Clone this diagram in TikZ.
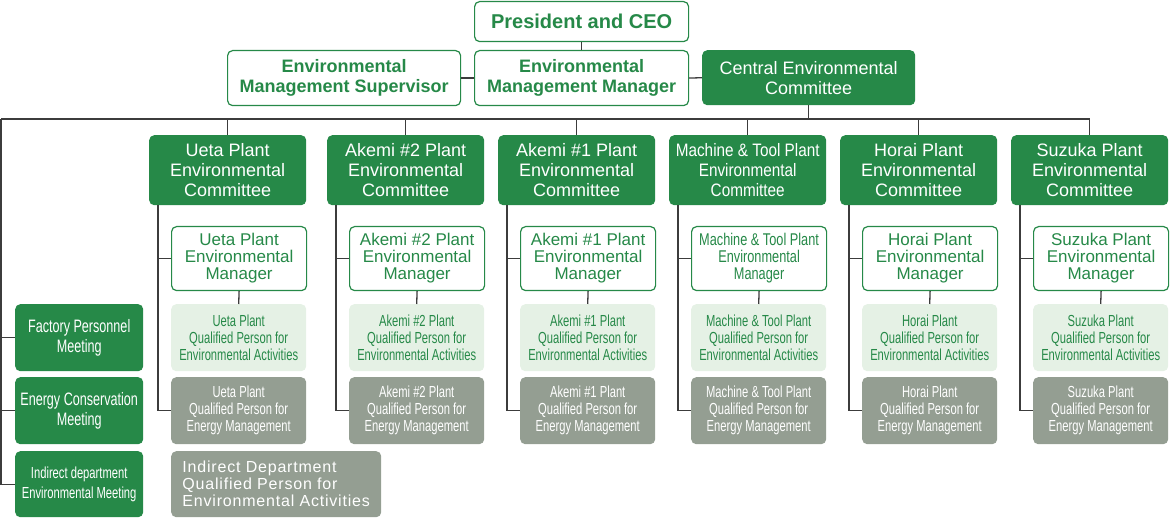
\documentclass[tikz,border=0pt]{standalone}
\usepackage{fontspec}
\setmainfont{Liberation Sans}
\newfontfamily\condsf[FakeStretch=0.7]{Liberation Sans}
\newfontfamily\midsf[FakeStretch=0.75]{Liberation Sans}
\newfontfamily\semisf[FakeStretch=0.85]{Liberation Sans}
\newfontfamily\widesf[LetterSpace=5]{Liberation Sans}
\definecolor{envgreen}{RGB}{38,137,72}
\definecolor{envlight}{RGB}{229,241,229}
\definecolor{envgray}{RGB}{148,158,146}
\definecolor{linegray}{RGB}{60,60,60}
\usetikzlibrary{positioning,calc}
% font sizes in px of the chart
\newcommand\comfont{\fontsize{18}{20}\selectfont}
\newcommand\comnarrow{\semisf\fontsize{18}{20}\selectfont}
\newcommand\mgrfont{\fontsize{17}{17}\selectfont}
\newcommand\mgrnarrow{\midsf\fontsize{17}{17}\selectfont}
\newcommand\qualfont{\condsf\fontsize{16}{17}\selectfont}
\newcommand\meetfont{\condsf\fontsize{18}{20}\selectfont}

\begin{document}
\begin{tikzpicture}[x=1pt, y=-1pt,
    box/.style={rectangle, rounded corners=5pt, inner sep=2pt, align=center,
                anchor=north west},
    outlinebox/.style={box, draw=envgreen, line width=1.2pt, fill=white, text=envgreen},
    greenbox/.style={box, fill=envgreen, text=white},
    lightbox/.style={box, fill=envlight, text=envgreen},
    graybox/.style={box, fill=envgray, text=white},
    link/.style={draw=linegray, line width=1.3pt}
  ]
    \useasboundingbox (0,0) rectangle (1170,518);

    % Top management
    \node[outlinebox, minimum width=214, minimum height=40,
          font=\fontsize{20}{22}\selectfont\bfseries] (ceo) at (474,1)
      {President and CEO};
    \node[outlinebox, minimum width=233, minimum height=55,
          font=\comfont\bfseries] (sup) at (227,50)
      {Environmental\\Management Supervisor};
    \node[outlinebox, minimum width=214, minimum height=55,
          font=\comfont\bfseries] (mgr) at (474,50)
      {Environmental\\Management Manager};
    \node[greenbox, minimum width=213, minimum height=55, font=\comfont] (central) at (702,50)
      {Central Environmental\\Committee};
    \draw[link] (ceo.south) -- (mgr.north);
    \draw[link] (sup.east) -- (mgr.west);
    \draw[link] (mgr.east) -- (central.west);

    % Bus line
    \coordinate (busL) at (1,119);
    \draw[link] (central.south) -- (central.south |- busL);

    % Plants
    \foreach \px/\pname/\pid/\comf/\mgrf in {
        149/{Ueta Plant}/ueta/\comfont/\mgrfont,
        327/{Akemi \#2 Plant}/akemiB/\comfont/\mgrfont,
        498/{Akemi \#1 Plant}/akemiA/\comfont/\mgrfont,
        669/{Machine \& Tool Plant}/machine/\comnarrow/\mgrnarrow,
        840/{Horai Plant}/horai/\comfont/\mgrfont,
        1011/{Suzuka Plant}/suzuka/\comfont/\mgrfont} {
      \node[greenbox, minimum width=157, minimum height=70, font=\comf] (c\pid) at (\px,135)
        {\pname\\Environmental\\Committee};
      \node[outlinebox, minimum width=135, minimum height=64, font=\mgrf] (m\pid) at (\px+22,226)
        {\pname\\Environmental\\Manager};
      \node[lightbox, minimum width=135, minimum height=67, font=\qualfont] (a\pid) at (\px+22,304)
        {\pname\\Qualified Person for\\Environmental Activities};
      \node[graybox, minimum width=135, minimum height=67, font=\qualfont] (e\pid) at (\px+22,377)
        {\pname\\Qualified Person for\\Energy Management};
      \coordinate (s\pid) at ($(c\pid.south west)+(9,0)$);
      \draw[link] (c\pid.north) -- (c\pid.north |- busL);
      \draw[link] (s\pid) |- (e\pid.west);
      \draw[link] (s\pid |- m\pid.west) -- (m\pid.west);
      \draw[link] (m\pid.south) -- (a\pid.north);
    }
    \draw[link] (busL) -- (csuzuka.north |- busL);

    % Meetings on the left
    \node[greenbox, minimum width=128, minimum height=67, font=\meetfont] (factory) at (15,304)
      {Factory Personnel\\Meeting};
    \node[greenbox, minimum width=128, minimum height=67, font=\meetfont] (energy) at (15,377)
      {Energy Conservation\\Meeting};
    \node[greenbox, minimum width=128, minimum height=66,
          font=\condsf\fontsize{16}{20}\selectfont] (indirect) at (15,451)
      {Indirect department\\Environmental Meeting};
    \draw[link] (busL) |- (indirect.west);
    \draw[link] (busL |- factory.west) -- (factory.west);
    \draw[link] (busL |- energy.west) -- (energy.west);

    % Indirect department qualified person
    \node[graybox, align=left, minimum width=210, minimum height=66,
          font=\widesf\fontsize{16}{17}\selectfont] (indqual) at (171,451)
      {Indirect Department\\Qualified Person for\\Environmental Activities};
  \end{tikzpicture}
\end{document}
